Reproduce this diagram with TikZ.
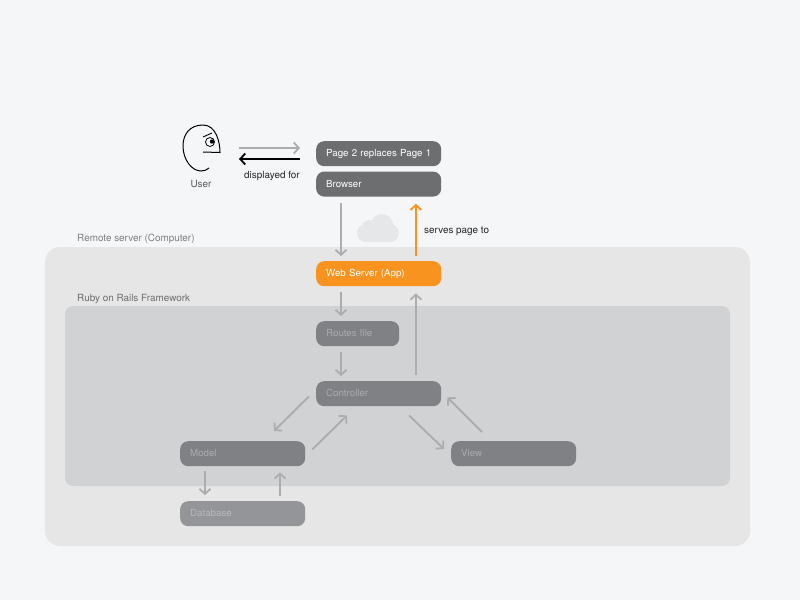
\documentclass[tikz,border=0pt]{standalone}
\usepackage{fontspec}
\setmainfont{TeX Gyre Heros}
\usetikzlibrary{positioning,arrows.meta}
\definecolor{pagebg}{HTML}{F5F6F8}
\definecolor{serverbg}{HTML}{E6E6E6}
\definecolor{railsbg}{HTML}{D1D2D4}
\definecolor{darkbox}{HTML}{6D6E70}
\definecolor{dimbox}{HTML}{808184}
\definecolor{lowbox}{HTML}{939598}
\definecolor{dimtext}{HTML}{A9ABAE}
\definecolor{lowtext}{HTML}{B8B9BB}
\definecolor{arrowgray}{HTML}{ABADB0}
\definecolor{apporange}{HTML}{F7931E}
\definecolor{cloudgray}{HTML}{E6E7E8}
\tikzset{
    >={Straight Barb[length=5pt,width=11pt,line width=1.8pt]},
    pill/.style={
        rectangle,
        rounded corners=8pt,
        minimum height=25pt,
        inner xsep=10pt,
        inner ysep=0pt,
        text width=105pt,
        text height=7.5pt,
        text depth=1.5pt,
        align=left,
        font=\fontsize{9.7}{11}\selectfont
    },
    livebox/.style={pill, fill=darkbox, text=white},
    dimpill/.style={pill, fill=dimbox, text=dimtext},
    line/.style={draw=arrowgray, line width=1.9pt, ->},
    label/.style={font=\fontsize{9.9}{11}\selectfont, inner sep=0pt}
}
\begin{document}
\begin{tikzpicture}[x=1pt,y=-1pt,node distance=5pt]
    \useasboundingbox[fill=pagebg] (0,0) rectangle (800,600);
    % panels
    \fill[serverbg, rounded corners=15pt] (45,247) rectangle (750,546);
    \fill[railsbg, rounded corners=8pt] (65,306) rectangle (730,486);
    \node[label, anchor=west, text=gray] (remote) at (77,238.5) {Remote server (Computer)};
    \node[label, anchor=west, text=darkbox] (rails) at (77,298.5) {Ruby on Rails Framework};
    % cloud
    \foreach \cx/\cy/\cr in {366/233/9, 390/233/9, 382/225/11, 369/227/7}
        \fill[cloudgray] (\cx,\cy) circle (\cr);
    \fill[cloudgray] (366,226) rectangle (390,242);
    % user
    \draw[black, line width=1pt] (203,152) -- (220,152.5)
        .. controls (220,142) and (216,125) .. (203,125)
        .. controls (190,125) and (183,134) .. (183,146)
        .. controls (183,160) and (192,171) .. (201,171)
        .. controls (204,171) and (207,170) .. (209,168);
    \draw[black, line width=.9pt] (203,137) -- (212,133);
    \draw[black, line width=.8pt] (210,142) circle (4.5);
    \fill[black] (212,141.5) circle (2.2);
    \node[label, text=darkbox!80!black] (user) at (201,184) {User};
    \coordinate (face) at (222,153.5);
    % boxes
    \node[livebox, anchor=north west] (page) at (316,141) {Page 2 replaces Page 1};
    \node[livebox, below=of page] (browser) {Browser};
    \node[pill, fill=apporange, text=white, anchor=north west] (web) at (316,261) {Web Server (App)};
    \node[dimpill, text width=63pt, anchor=north west] (routes) at (316,321) {Routes file};
    \node[dimpill, anchor=north west] (controller) at (316,381) {Controller};
    \node[dimpill, anchor=north west] (model) at (180,441) {Model};
    \node[dimpill, anchor=north west] (view) at (451,441) {View};
    \node[pill, fill=lowbox, text=lowtext, anchor=north west] (database) at (180,501) {Database};
    % user and browser
    \draw[line] ([shift={(17,-5.5)}]face) -- ([shift={(-16,-5.5)}]page.south west |- face);
    \draw[black, line width=2pt, ->] ([shift={(-16,5.5)}]page.south west |- face) -- ([shift={(17,5.5)}]face);
    \node[label, text=black!85] (displayed) at (272,175.5) {displayed for};
    % browser and server
    \draw[line] ([shift={(25,6)}]browser.south west) -- ([shift={(25,-5)}]web.north west);
    \draw[draw=apporange, line width=1.9pt, ->] ([shift={(-25.5,-5)}]web.north east) -- ([shift={(-25.5,7)}]browser.south east);
    \node[label, anchor=west, text=black!85] (serves) at (424,231.5) {serves page to};
    % inside the server
    \draw[line] ([shift={(25,6)}]web.south west) -- ([shift={(25,-5)}]routes.north west);
    \draw[line] ([shift={(25,6)}]routes.south west) -- ([shift={(25,-5)}]controller.north west);
    \draw[line] ([shift={(-25.5,-6)}]controller.north east) -- ([shift={(-25.5,7)}]web.south east);
    \draw[line] ([shift={(-7,-10)}]controller.south west) -- ([shift={(94,-10)}]model.north west);
    \draw[line] ([shift={(7,-17)}]model.south east) -- ([shift={(31,9)}]controller.south west);
    \draw[line] ([shift={(93,9)}]controller.south west) -- ([shift={(-7,8)}]view.north west);
    \draw[line] ([shift={(31,-9)}]view.north west) -- ([shift={(6,-9)}]controller.south east);
    \draw[line] ([shift={(25,5)}]model.south west) -- ([shift={(25,-6)}]database.north west);
    \draw[line] ([shift={(100,-5)}]database.north west) -- ([shift={(100,6)}]model.south west);
\end{tikzpicture}
\end{document}
